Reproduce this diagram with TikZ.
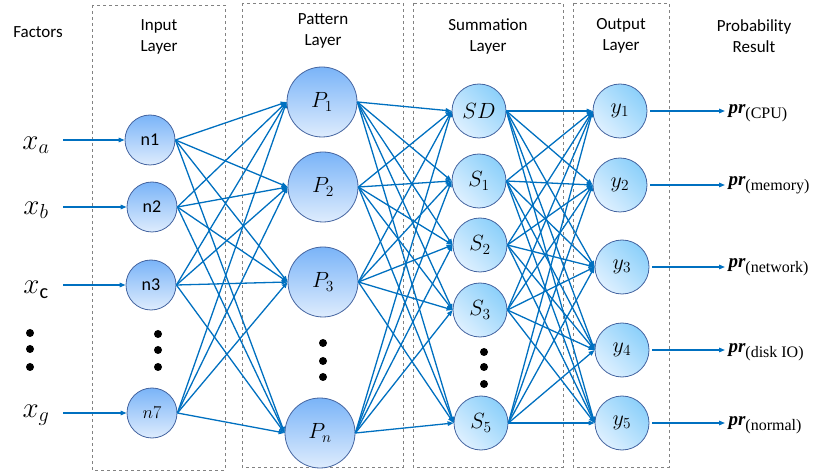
\RequirePackage{fix-cm}
\documentclass[tikz,border=0pt]{standalone}
\usepackage{fontspec}
\setmainfont{Carlito}
\newfontfamily\resfont{Liberation Serif}
\usetikzlibrary{arrows.meta,positioning}
\definecolor{wire}{RGB}{0,112,192}
\definecolor{rim}{RGB}{68,100,160}
\definecolor{ballTop}{RGB}{122,180,248}
\definecolor{ballBot}{RGB}{222,236,253}
\definecolor{sumTop}{RGB}{140,208,250}
\definecolor{sumBot}{RGB}{222,240,255}
\definecolor{frame}{RGB}{130,130,130}
\newcommand{\prob}[1]{{\resfont\fontsize{19}{21}\selectfont\bfseries\itshape pr}\raisebox{-5pt}{\resfont\fontsize{16}{18}\selectfont(#1)}}

\tikzset{
  neuron/.style={circle,draw=rim,line width=0.8pt,top color=ballTop,bottom color=ballBot,
    inner sep=0pt,font=\fontsize{18}{20}\selectfont},
  mathball/.style={font=\fontsize{22}{24}\selectfont},
  sumball/.style={neuron,mathball,top color=sumTop,bottom color=sumBot,shading angle=-45,minimum size=54pt},
  layerbox/.style={draw=frame,dashed,line width=0.6pt},
  title/.style={align=center,font=\fontsize{17}{21}\selectfont},
  wire/.style={draw=wire,line width=1.3pt,-{Triangle[length=6pt,width=4.5pt]}},
  dot/.style={circle,fill=black,inner sep=0pt,minimum size=8pt}
}

\begin{document}
\begin{tikzpicture}[x=1pt,y=-1pt]
  \useasboundingbox (0,0) rectangle (823,473);

  % layer frames
  \draw[layerbox] (92,5) rectangle (225,470);
  \draw[layerbox] (242,3) rectangle (403,467);
  \draw[layerbox] (413,3) rectangle (563,467);
  \draw[layerbox] (573,3) rectangle (669,467);

  % headings
  \node[title] (hfac) at (38,32) {Factors};
  \node[title] (hin) at (159,37) {Input\\Layer};
  \node[title] (hpat) at (323,31) {Pattern\\Layer};
  \node[title] (hsum) at (488,36) {Summation\\Layer};
  \node[title] (hout) at (621,36) {Output\\Layer};
  \node[title] (hres) at (754,36) {Probability\\Result};

  % input layer
  \foreach \n/\x/\y/\t in {n1/150/140/n1,n2/152/207/n2,n3/151/285/n3,n7/152/413/$n7$}
    \node[neuron,minimum size=50pt] (\n) at (\x,\y) {\t};

  % factors
  \foreach \f/\y/\t/\n in {xa/145/a/n1,xb/210/b/n2,xc/290/\mathrm{c}/n3,xg/415/g/n7}
  {
    \node[font=\fontsize{29}{32}\selectfont] (\f) at (36,\y) {$x_{\t}$};
    \draw[wire] (63,0 |- \n.west) -- (\n.west);
  }

  % pattern layer
  \foreach \n/\x/\y/\t in {p1/322/102/P_1,p2/323/187/P_2,p3/323/282/P_3,p4/320/433/P_n}
    \node[neuron,mathball,minimum size=70pt] (\n) at (\x,\y) {$\t$};

  % summation layer
  \foreach \n/\x/\y/\t in {sd/479/111/SD,s1/479/181/S_1,s2/480/245/S_2,s3/480/310/S_3,s5/481/423/S_5}
    \node[sumball] (\n) at (\x,\y) {$\t$};

  % output layer
  \foreach \n/\x/\y/\t in {y1/620/111/y_1,y2/620/185/y_2,y3/622/267/y_3,y4/622/350/y_4,y5/622/423/y_5}
    \node[sumball] (\n) at (\x,\y) {$\t$};

  % vertical dots
  \foreach \x/\ys in {30/{333,349,367},158/{334,350,367},323/{343,361,377},484/{352,367,384}}
    \foreach \y in \ys
      \node[dot] at (\x,\y) {};

  % connections
  \foreach \a in {n1,n2,n3,n7}
    \foreach \b in {p1,p2,p3,p4}
      \draw[wire] (\a.east) -- (\b.west);
  \foreach \a in {p1,p2,p3,p4}
    \foreach \b in {sd,s1,s2,s3,s5}
      \draw[wire] (\a.east) -- (\b.west);
  \foreach \a in {sd,s1,s2,s3,s5}
    \foreach \b in {y1,y2,y3,y4,y5}
      \draw[wire] (\a.east) -- (\b.west);

  % results
  \foreach \n/\y/\t in {y1/113/CPU,y2/185/memory,y3/267/network,y4/352/disk IO,y5/425/normal}
  {
    \node[anchor=west] (r\n) at (725,\y) {\prob{\t}};
    \draw[wire,shorten <=3pt] (\n.east) -- (\n.east -| r\n.west);
  }
\end{tikzpicture}
\end{document}
